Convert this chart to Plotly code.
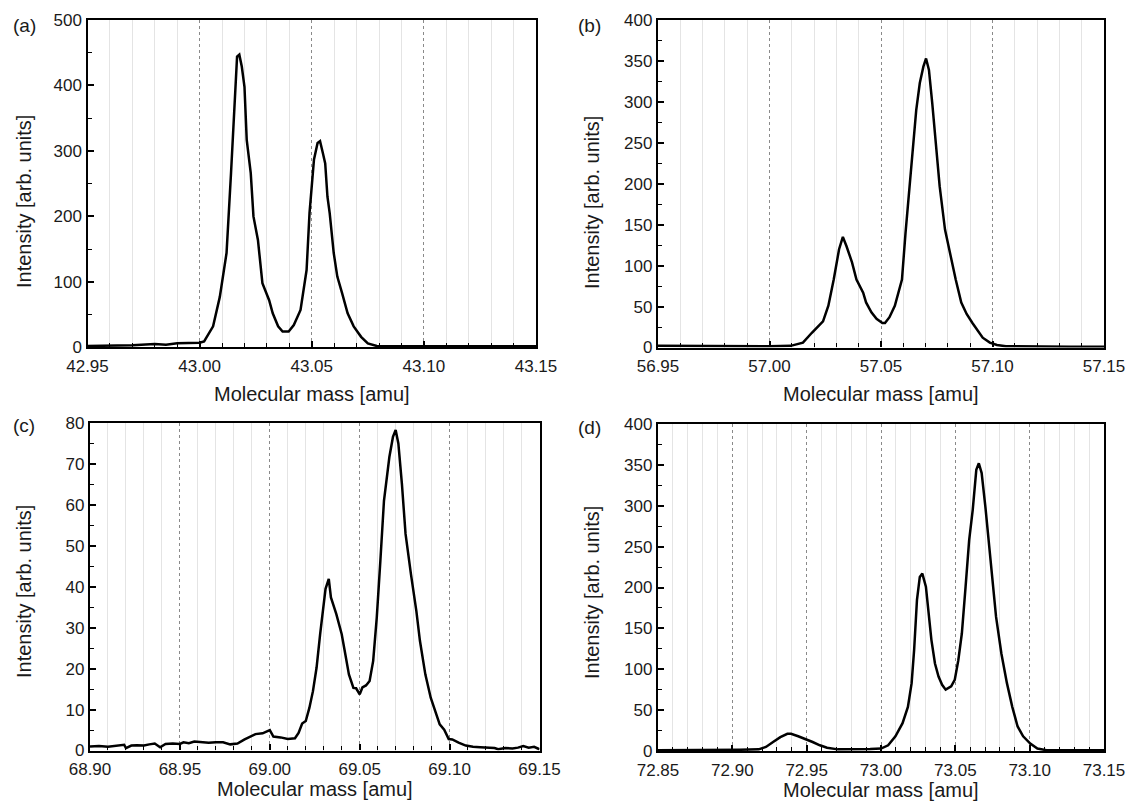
import plotly.graph_objects as go

# ---------------- data ----------------
a_mass = [42.950, 42.960, 42.970, 42.980, 42.985, 42.990, 42.995, 43.000, 43.002, 43.006,
          43.009, 43.012, 43.014, 43.0155, 43.0167, 43.0177, 43.0188, 43.020, 43.021, 43.0228,
          43.024, 43.026, 43.028, 43.031, 43.0326, 43.035, 43.037, 43.0397, 43.042, 43.045,
          43.0477, 43.049, 43.051, 43.0526, 43.0537, 43.055, 43.056, 43.057, 43.058, 43.0598,
          43.0614, 43.0635, 43.066, 43.0687, 43.072, 43.075, 43.079, 43.090, 43.110, 43.130, 43.150]
a_intensity = [2, 2, 3, 5, 4, 6, 6, 7, 9, 32,
               77, 144, 266, 378, 444, 447, 429, 398, 317, 266,
               200, 164, 98, 72, 52, 32, 24, 24, 34, 57,
               118, 205, 287, 312, 315, 296, 281, 230, 205, 144,
               108, 83, 52, 32, 16, 6, 2, 1.5, 1.5, 1.5, 1.5]

b_mass = [56.950, 56.970, 56.990, 57.000, 57.0095, 57.015, 57.019, 57.024, 57.0264, 57.0288,
          57.0312, 57.0329, 57.0345, 57.037, 57.039, 57.042, 57.0433, 57.0457, 57.048, 57.0506,
          57.0518, 57.0538, 57.0562, 57.0594, 57.061, 57.0626, 57.0642, 57.0658, 57.0674, 57.069,
          57.0702, 57.0715, 57.073, 57.0747, 57.0763, 57.0787, 57.0811, 57.0835, 57.086, 57.0884,
          57.091, 57.093, 57.0956, 57.0988, 57.102, 57.106, 57.120, 57.135, 57.150]
b_intensity = [2, 1.5, 1.5, 1.5, 2, 6, 18, 32, 51, 83,
               120, 135, 124, 104, 83, 67, 55, 43, 35, 30,
               30, 37, 51, 83, 140, 189, 242, 290, 323, 343,
               353, 339, 298, 246, 197, 144, 112, 83, 55, 41,
               30, 22, 12, 6, 3, 1.5, 1, 1, 1]

c_mass = [68.900, 68.905, 68.910, 68.915, 68.919, 68.920, 68.923, 68.926, 68.930, 68.933,
          68.936, 68.939, 68.942, 68.946, 68.950, 68.952, 68.955, 68.958, 68.962, 68.966,
          68.970, 68.974, 68.978, 68.982, 68.986, 68.990, 68.992, 68.996, 69.000, 69.002,
          69.006, 69.010, 69.014, 69.016, 69.018, 69.020, 69.022, 69.024, 69.026, 69.028,
          69.030, 69.031, 69.0328, 69.034, 69.037, 69.040, 69.042, 69.044, 69.0465, 69.048,
          69.050, 69.0515, 69.0535, 69.0555, 69.0575, 69.0595, 69.0615, 69.0635, 69.0665, 69.0685,
          69.070, 69.0715, 69.0735, 69.0755, 69.0785, 69.0815, 69.0835, 69.0865, 69.0895, 69.0925,
          69.0945, 69.097, 69.0995, 69.1015, 69.105, 69.109, 69.113, 69.117, 69.121, 69.125,
          69.127, 69.131, 69.135, 69.138, 69.141, 69.144, 69.147, 69.150]
c_intensity = [1.0, 1.1, 0.9, 1.2, 1.4, 0.6, 1.2, 1.3, 1.2, 1.5,
               1.7, 0.8, 1.6, 1.7, 1.6, 2.0, 1.8, 2.2, 2.0, 1.9,
               2.0, 2.0, 1.5, 1.7, 2.7, 3.5, 4.0, 4.2, 5.0, 3.4,
               3.2, 2.8, 3.0, 4.3, 6.6, 7.2, 10.4, 14.5, 20.2, 28.4,
               36.6, 39.5, 41.9, 37.4, 33.3, 28.4, 23.5, 18.6, 15.3, 15.2,
               13.7, 15.4, 15.9, 17.0, 21.9, 32.5, 46.4, 61.0, 71.7, 76.6,
               78.3, 75.0, 65.0, 52.9, 43.1, 34.1, 26.8, 18.6, 12.9, 8.8,
               6.4, 5.1, 2.8, 2.7, 1.9, 1.2, 0.9, 0.8, 0.7, 0.6,
               0.3, 0.6, 0.5, 0.7, 1.1, 0.7, 0.9, 0.3]

d_mass = [72.850, 72.870, 72.890, 72.905, 72.9177, 72.9226, 72.9274, 72.9323, 72.937, 72.9395,
          72.9443, 72.949, 72.954, 72.9589, 72.9637, 72.971, 72.9806, 72.9927, 73.000, 73.0048,
          73.0097, 73.0145, 73.0181, 73.0206, 73.0223, 73.0242, 73.0261, 73.0278, 73.0302, 73.032,
          73.0339, 73.0363, 73.0387, 73.0411, 73.0435, 73.0472, 73.0496, 73.052, 73.0544, 73.0569,
          73.0593, 73.0617, 73.0641, 73.0658, 73.0677, 73.0702, 73.0726, 73.075, 73.0774, 73.081,
          73.0847, 73.0883, 73.0919, 73.0956, 73.1004, 73.1052, 73.1113, 73.130, 73.150]
d_intensity = [1, 1, 1, 1.5, 2, 5, 11, 17, 21, 21,
               18, 15, 11, 7, 4, 2, 2, 2.5, 3, 7,
               18, 34, 54, 83, 124, 185, 213, 217, 201, 168,
               136, 107, 91, 81, 75, 79, 87, 111, 144, 201,
               258, 295, 344, 352, 340, 299, 254, 205, 164, 119,
               83, 54, 30, 18, 9, 3, 1, 1, 1]

panel_labels = ["(a)", "(b)", "(c)", "(d)"]
x_title = "Molecular mass [amu]"
y_title = "Intensity [arb. units]"

x_ranges = [[42.95, 43.15], [56.95, 57.15], [68.90, 69.15], [72.85, 73.15]]
y_ranges = [[0, 500], [0, 400], [0, 80], [0, 400]]
y_dticks = [100, 50, 10, 50]

# ---------------- layout geometry (pixels) ----------------
W, H = 1128, 808
def px_x(v): return v / W
def px_y(v): return 1 - v / H

x_px = [(87.5, 536.0), (658.0, 1104.0), (90.0, 539.5), (658.0, 1104.0)]
y_px = [(20.0, 347.3), (20.0, 347.5), (423.0, 750.5), (424.0, 751.0)]
label_pos = [(11, 25), (576, 25), (11, 425), (576, 427)]
ytitle_pos = [(24, 202), (592, 203), (24, 592), (592, 593)]
xtitle_y = [394, 394, 789, 790]

FONT = "Liberation Sans, Arial, sans-serif"
TXT = "#1a1a1a"

fig = go.Figure()
series = [(a_mass, a_intensity), (b_mass, b_intensity), (c_mass, c_intensity), (d_mass, d_intensity)]
for i, (xs, ys) in enumerate(series):
    sfx = "" if i == 0 else str(i + 1)
    fig.add_trace(go.Scatter(x=xs, y=ys, mode="lines",
                             line=dict(color="black", width=2.5),
                             xaxis="x" + sfx, yaxis="y" + sfx, showlegend=False))

annotations = []
layout = dict(
    width=W, height=H,
    margin=dict(l=0, r=0, t=0, b=0),
    paper_bgcolor="white", plot_bgcolor="white",
    font=dict(family=FONT, color=TXT, size=17),
    showlegend=False,
)

for i in range(4):
    sfx = "" if i == 0 else str(i + 1)
    xr = x_ranges[i]
    (x0, x1), (y0, y1) = x_px[i], y_px[i]
    layout["xaxis" + sfx] = dict(
        domain=[px_x(x0), px_x(x1)], anchor="y" + sfx, range=xr, automargin=False,
        tick0=xr[0], dtick=0.05, tickformat=".2f",
        ticks="inside", ticklen=6, tickwidth=1.5, tickcolor="black",
        ticklabelstandoff=2,
        showline=True, linewidth=2.3, linecolor="black", mirror=True,
        showgrid=True, gridcolor="#8a8a8a", gridwidth=1, griddash="dot",
        zeroline=False,
        tickfont=dict(size=17, family=FONT, color=TXT),
        minor=dict(dtick=0.01, tick0=xr[0], ticks="inside", ticklen=4, tickwidth=1.2,
                   tickcolor="black", showgrid=True, gridcolor="#e4e4e4", gridwidth=1,
                   griddash="solid"),
    )
    layout["yaxis" + sfx] = dict(
        domain=[px_y(y1), px_y(y0)], anchor="x" + sfx, range=y_ranges[i], automargin=False,
        tick0=0, dtick=y_dticks[i],
        ticks="inside", ticklen=6, tickwidth=1.5, tickcolor="black",
        showline=True, linewidth=2.3, linecolor="black", mirror=True,
        showgrid=False, zeroline=False,
        tickfont=dict(size=17, family=FONT, color=TXT),
        minor=dict(dtick=y_dticks[i] / 2, tick0=0, ticks="inside", ticklen=4, tickwidth=1.2,
                   tickcolor="black", showgrid=False),
    )
    # panel label
    lx, ly = label_pos[i]
    annotations.append(dict(text=panel_labels[i], xref="paper", yref="paper",
                            x=px_x(lx), y=px_y(ly), xanchor="left", yanchor="middle",
                            showarrow=False, font=dict(size=19, family=FONT, color=TXT)))
    # x axis title
    annotations.append(dict(text=x_title, xref="paper", yref="paper",
                            x=px_x((x0 + x1) / 2), y=px_y(xtitle_y[i]),
                            xanchor="center", yanchor="middle",
                            showarrow=False, font=dict(size=20, family=FONT, color=TXT)))
    # y axis title
    tx, ty = ytitle_pos[i]
    annotations.append(dict(text=y_title, xref="paper", yref="paper",
                            x=px_x(tx), y=px_y(ty), xanchor="center", yanchor="middle",
                            textangle=-90, showarrow=False,
                            font=dict(size=20, family=FONT, color=TXT)))

layout["annotations"] = annotations
fig.update_layout(**layout)

# remove the browser's default 8px body margin so the figure fills the window exactly
fig.write_html("out.html", config={"displayModeBar": False},
               post_script="document.body.style.margin='0';document.body.style.overflow='hidden';")
